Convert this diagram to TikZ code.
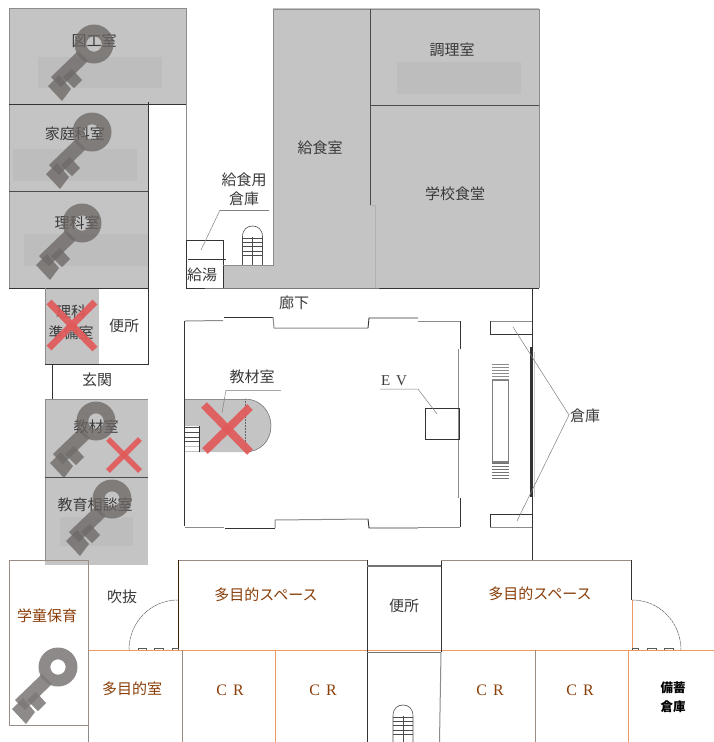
\documentclass[tikz,border=0pt]{standalone}
\usepackage{fontspec}
\setmainfont{Noto Sans CJK JP}
\newfontfamily\latinserif{Liberation Serif}
\definecolor{roomgrey}{HTML}{C4C4C4}
\definecolor{bandgrey}{HTML}{BDBDBD}
\definecolor{keygrey}{HTML}{6B6664}
\definecolor{crossred}{HTML}{E25A5A}
\definecolor{orangeline}{HTML}{EC9A62}
\definecolor{brownline}{HTML}{9A8C84}
\definecolor{browntext}{HTML}{8A3E08}
\definecolor{greytext}{HTML}{3A3A3A}
\tikzset{
  x=1pt,y=-1pt,
  wall/.style={draw=black!80,line width=.9pt},
  lightwall/.style={draw=black!45,line width=1pt},
  thinwall/.style={draw=black!70,line width=.6pt},
  orangewall/.style={draw=orangeline,line width=.9pt},
  brownwall/.style={draw=brownline,line width=1pt},
  leaderline/.style={draw=black!50,line width=.5pt},
  doorarc/.style={draw=black!60,line width=.5pt,dash pattern=on 3pt off .6pt},
  roomlabel/.style={font=\fontsize{15}{17}\selectfont,text=greytext,inner sep=0pt},
  brownlabel/.style={font=\fontsize{15}{17}\selectfont,text=browntext,inner sep=0pt},
  crlabel/.style={font=\latinserif\fontsize{16}{17}\selectfont,text=browntext,inner sep=0pt},
  crossmark/.style={draw=crossred,line width=#1,opacity=.92},
  pics/keyicon/.style={code={
    \begin{scope}[transparency group,opacity=.76]
      \fill[keygrey,even odd rule] (0,0) circle[radius=19.5] (0,0) circle[radius=7.7];
      \fill[keygrey] (-16,7) -- (-6,17) -- (-33,43) -- (-43,33) -- cycle;
      \fill[keygrey] (-46,42) -- (-35,31) -- (-23,45) -- (-32,57) -- cycle;
      \fill[keygrey] (-31,33) -- (-22,25) -- (-12,36) -- (-20,44) -- cycle;
    \end{scope}
    \begin{scope}
      \clip (-16,7) -- (-6,17) -- (-33,43) -- (-43,33) -- cycle;
      \fill[black,fill opacity=.1] (0,0) circle[radius=19.5];
      \fill[black,fill opacity=.1] (-46,42) -- (-35,31) -- (-23,45) -- (-32,57) -- cycle;
      \fill[black,fill opacity=.1] (-31,33) -- (-22,25) -- (-12,36) -- (-20,44) -- cycle;
    \end{scope}
  }},
}
\newcommand{\stairarch}[3]{% x centre, top y, bottom y
  \draw[thinwall] (#1-10,#3) -- (#1-10,#2+11) .. controls (#1-10,#2+3) and (#1-5,#2) .. (#1,#2) .. controls (#1+5,#2) and (#1+10,#2+3) .. (#1+10,#2+11) -- (#1+10,#3);
  \draw[thinwall] (#1,#2+11) -- (#1,#3);
  \foreach \k in {0,...,4}{\draw[thinwall] (#1-10,#2+12+\k*4.3) -- (#1+10,#2+12+\k*4.3);}
}
\begin{document}
\begin{tikzpicture}
\useasboundingbox (0,0) rectangle (714,742);
\fill[white] (0,0) rectangle (714,742);
% grey rooms
\fill[roomgrey] (9,8) rectangle (186,104);
\fill[roomgrey] (9,104) rectangle (148,288);
\fill[roomgrey] (273,8) rectangle (539,288);
\fill[roomgrey] (223,265) rectangle (273,288);
\fill[roomgrey] (45,288) rectangle (99,364);
\fill[roomgrey] (45,399) rectangle (148,565);
\fill[roomgrey] (185,399) -- (245,399) .. controls (260,399) and (271,411) .. (271,426) .. controls (271,441) and (260,452) .. (245,452) -- (199,452) -- (199,426) -- (185,426) -- cycle;
% lighter bands
\fill[bandgrey] (38,57) rectangle (162,88);
\fill[bandgrey] (13,149) rectangle (137,181);
\fill[bandgrey] (24,234) rectangle (148,266);
\fill[bandgrey] (397,62) rectangle (521,94);
\fill[bandgrey] (60,517) rectangle (133,546);
% walls upper left
\draw[lightwall] (9,8) -- (186,8);
\draw[lightwall] (9,8) -- (9,288);
\draw[wall] (9,104) -- (186,104);
\draw[lightwall] (186,8) -- (186,240);
\draw[wall] (186,240) -- (186,288) -- (223,288) -- (539,288);
\draw[thinwall] (9,191) -- (148,191);
\draw[wall] (148,102) -- (148,364);
\draw[wall] (9,288) -- (148,288);
\draw[lightwall] (45,288) -- (45,364);
\draw[wall] (45,364) -- (149,364);
\draw[wall] (52,364) -- (52,399);
\draw[lightwall] (45,399) -- (148,399);
\draw[lightwall] (45,399) -- (45,560);
\draw[thinwall] (45,477) -- (148,477);
% giyu
\draw[wall] (186,240) -- (223,240) -- (223,288);
\draw[wall] (188,259) -- (226,259);
\draw[leaderline] (220,210) -- (201,250);
\draw[leaderline] (220,210) -- (269,210);
\stairarch{252.5}{226}{265}
% kitchen block
\draw[lightwall] (273,9) -- (539,9) -- (539,288);
\draw[lightwall] (273,9) -- (273,265) -- (223,265);
\draw[thinwall] (370,9) -- (370,205);
\draw[thinwall] (370,105) -- (539,105);
\draw[draw=black!30,line width=.6pt] (370,205) -- (375,205) -- (375,288);
% courtyard
\draw[lightwall] (223,320.5) -- (185,321);
\draw[wall] (184.5,321) -- (184.5,526);
\draw[lightwall] (185,527) -- (224,527);
\draw[wall] (224,317) -- (273,317);
\draw[lightwall] (273,317) -- (274,328) -- (368,328);
\draw[wall] (368,328) -- (369,318) -- (418,318);
\draw[lightwall] (418,321) -- (460,321);
\draw[wall] (460,321) -- (460,349);
\draw[lightwall] (458,349) -- (458,498);
\draw[wall] (460,498) -- (460,527);
\draw[lightwall] (460,527) -- (418,527);
\draw[wall] (418,528) -- (369,528) -- (368,519);
\draw[wall] (225,528) -- (275,528);
\draw[lightwall] (275,528) -- (275,520) -- (368,519);
% central staff room
\draw[draw=black!60,line width=.5pt] (245,399) .. controls (260,399) and (271,411) .. (271,426) .. controls (271,441) and (260,452) .. (245,452);
\draw[draw=black!60,line width=.5pt,densely dotted] (245,399) -- (245,452);
\draw[lightwall] (185,399) -- (245,399);
\foreach \yy in {427,432,437,441}{\draw[thinwall] (185,\yy) -- (199,\yy);}
\foreach \yy in {446,451}{\draw[draw=black!25,line width=.6pt] (185,\yy) -- (199,\yy);}
\draw[wall] (199,426) -- (199,452);
\draw[leaderline] (226,390) -- (222,413);
\draw[draw=black!35,line width=.5pt] (226,390) -- (281,390);
% EV
\draw[wall] (425,408) rectangle (459,439);
\draw[leaderline] (380,389) -- (418,389) -- (437,414);
% right side
\draw[wall] (532.5,288) -- (532.5,560);
\draw[wall,line width=1.2pt] (531,347) -- (531,497);
\draw[draw=black!20,line width=1pt] (534.5,352) -- (534.5,497);
\draw[lightwall] (490,321) -- (532,321);
\draw[wall] (490,321) -- (490,334) -- (532,334);
\draw[wall] (490,514) -- (532,514);
\draw[wall] (490,514) -- (490,527);
\draw[lightwall] (490,527) -- (532,527);
\coordinate (storagetip) at (569,415);
\draw[leaderline] (513,327) -- (storagetip) -- (517,521);
% long stair
\draw[draw=black!50,line width=1.5pt] (492.5,380) rectangle (508.5,462);
\foreach \yy in {364.5,367.5,370.5,373.5,376.5,379.5}{\draw[draw=black!45,line width=1pt] (492,\yy) -- (509,\yy);}
\foreach \yy in {463,466,469,472,475,478}{\draw[draw=black!55,line width=1pt] (492,\yy) -- (509,\yy);}
% lower floor
\draw[orangewall] (88,650) -- (714,650);
\draw[brownwall,line width=.8pt] (9,560) -- (88,560) -- (88,725) -- (9,725) -- cycle;
\draw[draw=black!45,line width=.8pt] (88,725) -- (88,742);
\draw[brownwall] (178,560) -- (367,560);
\draw[draw=black!75!orange,line width=.8pt] (178,560) -- (178,650);
\draw[wall] (367,560) -- (367,742);
\draw[brownwall] (182,650) -- (182,742);
\draw[orangewall] (275,650) -- (275,742);
\draw[draw=black!55,line width=1.3pt] (367,566) -- (441,566);
\draw[draw=black!55,line width=1pt] (367,652) -- (441,652);
\draw[wall] (441,560) -- (441,652);
\draw[lightwall] (441,652) -- (439.5,742);
\draw[brownwall] (441,560) -- (631,560);
\draw[wall] (631,560) -- (631,600);
\draw[orangewall] (632,600) -- (632,650);
\draw[brownwall] (535,650) -- (535,742);
\draw[orangewall] (628,650) -- (628,742);
% doors
\draw[doorarc] (129,650) .. controls (129,622.4) and (150.4,600) .. (178,600);
\draw[doorarc] (632,600) .. controls (659.6,600) and (681,622.4) .. (681,650);
\foreach \xa/\xb in {138/146,154/163,172/178,632/638,647/656,664/673}{\draw[draw=black!65,line width=.6pt] (\xa,650) -- (\xa,648.3) -- (\xb,648.3) -- (\xb,650);}
\stairarch{403}{705}{742}
% labels
\node[roomlabel] (zuko) at (94,41) {図工室};
\node[roomlabel] (katei) at (75,134) {家庭科室};
\node[roomlabel] (rika) at (77,223) {理科室};
\node[roomlabel] (kyushoku) at (320,148) {給食室};
\node[roomlabel] (chori) at (452,50) {調理室};
\node[roomlabel] (shokudo) at (455,194) {学校食堂};
\node[roomlabel] (soko1) at (244,180) {給食用};
\node[roomlabel] (soko2) at (244,199) {倉庫};
\node[roomlabel] (kyuto) at (202,275) {給湯};
\node[roomlabel] (roka) at (294,303) {廊下};
\node[roomlabel] (junbi1) at (71,312) {理科};
\node[roomlabel] (junbi2) at (71,333) {準備室};
\node[roomlabel] (benjo1) at (124,326) {便所};
\node[roomlabel] (genkan) at (97,380) {玄関};
\node[roomlabel] (kyozai1) at (96,427) {教材室};
\node[roomlabel] (sodan) at (95,505) {教育相談室};
\node[roomlabel] (kyozai2) at (252,377) {教材室};
\node[font=\latinserif\fontsize{15}{17}\selectfont,text=greytext,inner sep=0pt] (ev) at (394,381) {E\hspace{6pt}V};
\node[roomlabel] (soko3) at (585,416) {倉庫};
\node[brownlabel] (gakudo) at (47,616) {学童保育};
\node[roomlabel] (fukinuke) at (122,597) {吹抜};
\node[brownlabel] (tamoku1) at (266,595) {多目的スペース};
\node[brownlabel] (tamoku2) at (540,594) {多目的スペース};
\node[roomlabel] (benjo2) at (404,606) {便所};
\node[brownlabel] (tamokushitsu) at (132,689) {多目的室};
\node[crlabel] (cr1) at (230,690) {C\hspace{6pt}R};
\node[crlabel] (cr2) at (323,690) {C\hspace{6pt}R};
\node[crlabel] (cr3) at (490,690) {C\hspace{6pt}R};
\node[crlabel] (cr4) at (580,690) {C\hspace{6pt}R};
\node[font=\fontsize{12.5}{19}\selectfont\bfseries,text=black,inner sep=0pt,align=center] (bichiku) at (673,697) {備蓄\\倉庫};
% keys
\pic at (94,44) {keyicon};
\pic at (92,132) {keyicon};
\pic at (82,223) {keyicon};
\pic at (96,421) {keyicon};
\pic at (112,499) {keyicon};
\pic at (58,667) {keyicon};
% crosses
\draw[crossmark=7pt] (49,302) -- (95,349);
\draw[crossmark=7pt] (95,302) -- (49,348);
\draw[crossmark=5.5pt] (108,439) -- (140,471);
\draw[crossmark=5.5pt] (140,439) -- (108,471);
\draw[crossmark=8pt] (204,405) -- (250,452);
\draw[crossmark=8pt] (250,407) -- (205,451);
\end{tikzpicture}
\end{document}
